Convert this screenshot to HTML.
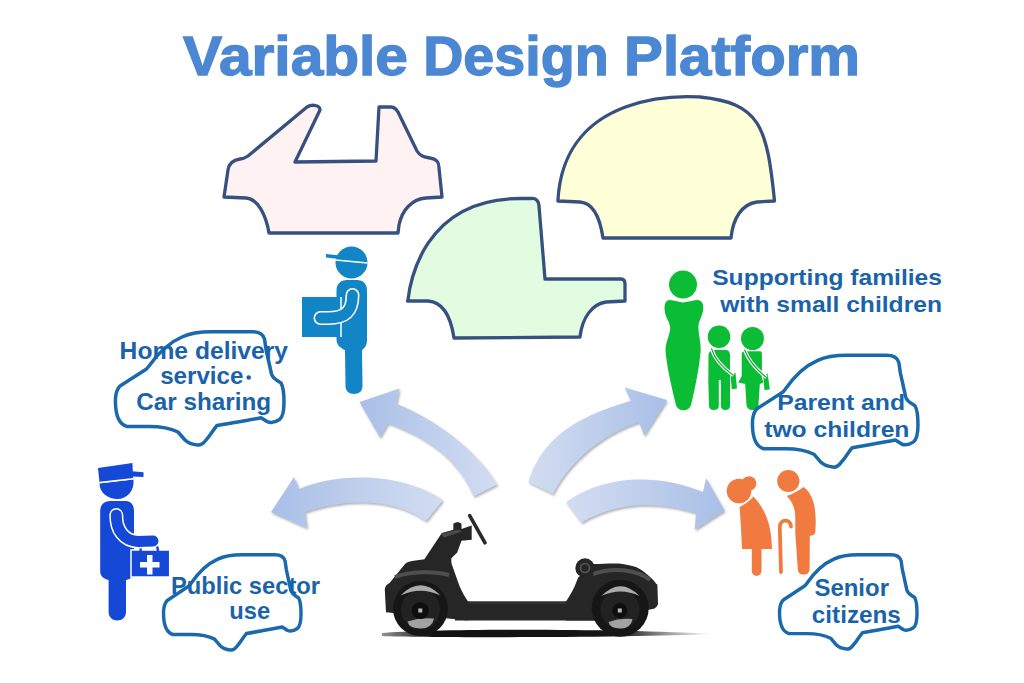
<!DOCTYPE html>
<html><head><meta charset="utf-8">
<style>
html,body{margin:0;padding:0;background:#fff;}
body{width:1024px;height:683px;overflow:hidden;}
svg{display:block;}
text{font-family:"Liberation Sans",sans-serif;font-weight:bold;}
</style></head>
<body>
<svg width="1024" height="683" viewBox="0 0 1024 683">
<defs>
  <linearGradient id="ag1" x1="0" y1="0" x2="1" y2="0">
    <stop offset="0" stop-color="#a9bfe7"/><stop offset="1" stop-color="#d3ddf1"/>
  </linearGradient>
  <linearGradient id="ag2" x1="1" y1="0" x2="0" y2="0">
    <stop offset="0" stop-color="#a9bfe7"/><stop offset="1" stop-color="#d3ddf1"/>
  </linearGradient>
  <linearGradient id="shd" x1="0" y1="0" x2="1" y2="0">
    <stop offset="0" stop-color="#222" stop-opacity="0.5"/><stop offset="0.15" stop-color="#111"/><stop offset="0.72" stop-color="#151515"/><stop offset="1" stop-color="#555" stop-opacity="0"/>
  </linearGradient>
  <filter id="ash" x="-10%" y="-10%" width="130%" height="130%">
    <feDropShadow dx="1.2" dy="1.8" stdDeviation="1" flood-color="#6a7080" flood-opacity="0.55"/>
  </filter>
</defs>
<rect width="1024" height="683" fill="#fff"/>

<!-- Title -->
<g fill="#4b87d2" stroke="#4b87d2" stroke-width="1.3" font-size="55">
<text x="183" y="75.4" textLength="225" lengthAdjust="spacingAndGlyphs">Variable</text>
<text x="423.2" y="75.4" textLength="185.5" lengthAdjust="spacingAndGlyphs">Design</text>
<text x="624.1" y="75.4" textLength="236" lengthAdjust="spacingAndGlyphs">Platform</text>
</g>

<!-- Car bodies -->
<g stroke="#36517f" stroke-width="3.3" stroke-linejoin="round">
  <path id="pink" fill="#fff2f3" d="M307,107 C312,104 320,105 320,110 L295,162 L376,161 L379,107 L391,107 C395,107 396,109 398,112 L417,151 C420,156 424,157 430,158 C437,159 439,162 439,168 L442,197 L426,198 C412,199 402,210 399,225 L398,233 L269,233 C266,215 258,199 246,198 L224,197 L228,170 C229,163 233,160 240,159 C243,159 245,158 248,156 Z"/>
  <path id="green" fill="#e1fce0" d="M407.5,301 L408,300 C409.7,283.1 423,198.5 520,198.5 L531,198.5 C536,198 539,201 539,206 L545,279 L621,279 C624,279 625,281 625,284 L625,301 L606,302 C592,304 582,318 580,337 L454,338 C451,318 444,302 428,301 Z"/>
  <path id="yellow" fill="#ffffd8" d="M557.9,201 C563.7,84.8 697,97 700,97 C759.7,103 766.9,125.4 774.5,201 L757,202 C742,204 733,218 731,238 L603,238 C600,218 594,203 580,202 Z"/>
</g>

<!-- Arrows -->
<g filter="url(#ash)">
  <path fill="url(#ag1)" d="M359.5,402 L399.4,388.4 L396.4,403.8 C420,413 470,440 497,484.5 L473.7,496.3 C455,450 410,431 388,423.3 L380,437.6 Z"/>
  <path fill="url(#ag1)" d="M271,512 L294,477 L299,489 C335,473 400,471 443,500 L426,521 C395,499 350,497 305,512 L307,528 Z"/>
  <path fill="url(#ag2)" d="M667,400 L624.7,387.4 L630.9,400.8 C595,412 545,428 528.3,482 L553,494 C570,460 605,433 639,422.3 L644.2,435.6 Z"/>
  <path fill="url(#ag2)" d="M724.5,510.5 L706.2,478.3 L703,492 C660,475 608,473 566,502 L581.5,522.5 C620,500 660,502 696,513 L694.6,529.8 Z"/>
</g>

<!-- Delivery person -->
<g fill="#1285c6">
  <circle cx="351.5" cy="262.5" r="16"/>
  <path d="M326,254 L340,255.5 L339,259 L326,257.5 Z"/>
  <path d="M336.5,290 C336.5,284 341,280 347,280 L357,280 C363,280 367,284 367,290 L367,340 C367,345 365,348 362,350 L362.5,386 C362.5,391 359,394 354,394 C349,394 345.5,391 345.5,386 L345,350 C340,348 337,345 336.5,340 Z"/>
  <rect x="302" y="297" width="39" height="40"/>
</g>
<line x1="335.5" y1="260" x2="367.5" y2="263" stroke="#fff" stroke-width="1.6"/>
<line x1="341" y1="297" x2="341" y2="337" stroke="#fff" stroke-width="1.5"/>
<path d="M352.5,295 C352.5,311 346,318 328,318 L320.5,318" fill="none" stroke="#fff" stroke-width="14" stroke-linecap="round"/>
<path d="M352.5,295 C352.5,311 346,318 328,318 L320.5,318" fill="none" stroke="#1285c6" stroke-width="10.8" stroke-linecap="round"/>

<!-- Public sector person -->
<g fill="#1648d8">
  <path d="M98,468 L132.4,463 L133.2,479 L99.5,482.7 Z"/>
  <path d="M132,471.3 L143.5,472.3 L143.5,477 L132,476.5 Z"/>
  <path d="M99.5,483.5 L133.5,479.5 C134.5,491 127,499 117.5,499 C107,499 99.5,492 99.5,483.5 Z"/>
  <path d="M100.2,511 C100.2,505 104,501 110,501 L126,501 C131,501 134,505 134,511 L134,572 C134,576 131,579 126,580 L126,612 C126,617 122,620.5 117.3,620.5 C112.6,620.5 108.6,617 108.6,612 L108.6,580 C104,579 100.2,576 100.2,572 Z"/>
  <rect x="131" y="550" width="38.7" height="27" stroke="#fff" stroke-width="1.5"/>
</g>
<line x1="99.5" y1="482.6" x2="133.2" y2="478.8" stroke="#fff" stroke-width="1.5"/>
<path d="M140.5,551 C140.5,539 158,538 158,551" fill="none" stroke="#1648d8" stroke-width="2.3"/>
<path d="M116.3,515 C116,530 124,541 138,541.5 L153,541" fill="none" stroke="#fff" stroke-width="14" stroke-linecap="round"/>
<path d="M116.3,515 C116,530 124,541 138,541.5 L153,541" fill="none" stroke="#1648d8" stroke-width="11" stroke-linecap="round"/>
<path d="M147,555 h5.5 v7 h7 v5.5 h-7 v7 h-5.5 v-7 h-7 v-5.5 h7 Z" fill="#fff"/>

<!-- Family -->
<g fill="#0bbd35">
  <circle cx="683" cy="284.6" r="14"/>
  <path d="M683,302.5 C689,301.5 694,300 698,300 C703,300.5 704,306 703,311 C702,317 698,322 698.4,328 C698.5,335 701,342 700.7,350 C700,362 696,385 691,405 C689,412 678,412 676,405 C671,385 666,362 665.5,350 C665.5,342 670,335 670.2,328 C670,322 665,317 664.8,311 C664,306 665,300.5 669,300 C673,300 678,301.5 683,302.5 Z"/>
  <circle cx="719" cy="336.7" r="11.3"/>
  <path d="M708.5,356 C708.5,352 711,350 714,350 L726,350 C728.5,350 730,352 730,355 L730,406 C730,408.5 728,410 725.4,410 C722.8,410 720.9,408.5 720.9,406 L720.9,380 L718.8,380 L718.8,406 C718.8,408.5 716.8,410 714,410 C711,410 709,408.5 709,406 L708.3,380 Z"/>
  <circle cx="752.5" cy="338.5" r="11.5"/>
  <path d="M741.7,354 C741.7,352 743,351.3 745,351.3 L760,351.3 C762,351.3 762,353 761.9,356 L761.9,378 L763.5,382.5 L759.8,384 L758.5,405 C758,409 755,410 752.5,410 C750,410 747,409 746.5,405 L745.2,384 L738.2,382.5 L741.7,376 Z"/>
  <path d="M730.5,374.5 L735.5,373 L737,388.5 L731.8,389.3 Z"/>
  <path d="M763.3,376.5 L767.5,373.4 L769.9,389.2 L764.5,390.2 Z"/>
</g>
<path d="M711.4,348.4 C714,358 723,368 733.4,375.4" fill="none" stroke="#fff" stroke-width="3.6"/>
<path d="M711.4,348.4 C714,358 723,368 733.4,375.4" fill="none" stroke="#0c9c2a" stroke-width="1.1"/>
<path d="M744.5,349.8 C748,359 757,370 766.4,377.4" fill="none" stroke="#fff" stroke-width="3.6"/>
<path d="M744.5,349.8 C748,359 757,370 766.4,377.4" fill="none" stroke="#0c9c2a" stroke-width="1.1"/>

<!-- Seniors -->
<g fill="#f07a40">
  <path d="M739.7,507 C745,504.5 750,500.5 753.4,496.6 C764,508 771.5,522 772,549 L742,549 C741.5,535 740.5,520 739.7,507 Z"/>
  <path d="M751.8,545 L761.5,545 L761.5,571 C761.5,574 759,575.8 756.6,575.8 C754,575.8 751.8,574 751.8,571 Z"/>
  <path d="M786.8,496 C793,494 799,490 803.7,487 C810,492 814,500 815,510 C816,518 815.8,526 815.3,532.5 C815,535 812,535.5 809.8,536 L809.6,569.4 C809,573 807,574.5 803.5,574.5 C800,574.5 798,573 797.8,569 L795.3,533 L795.3,516 C795,508 792,501 786.8,496 Z"/>
</g>
<g fill="#fff">
  <circle cx="739" cy="491" r="13.8"/><circle cx="788.3" cy="481" r="12.6"/>
</g>
<g fill="#f07a40">
  <circle cx="749" cy="483.5" r="7.3"/>
  <circle cx="739" cy="491" r="12.3"/>
  <circle cx="788.3" cy="481" r="11.1"/>
</g>
<path d="M781,572 L779.8,527 C779.8,518.5 791,518.5 791,526.5" fill="none" stroke="#f07a40" stroke-width="3.8" stroke-linecap="round"/>

<!-- Cloud car outlines -->
<g fill="none" stroke="#1b69ad" stroke-width="3.5" stroke-linejoin="round" stroke-linecap="round">
  <path id="c1" d="M127,426.5 C118,424 115,412 115.5,398 C116,392 117,389 120,386 L146.5,369 L149,366 C156,356 168,343 182,337 C190,333 200,331.7 212,331.7 L252,331.7 C258,331.7 263,334 264.5,339 L266,349.3 L271.5,374 C273,379 277,380 281,383 C284,388 284,395 284,402 C284,410 283,417 279.5,419.5 C275,422.5 270,423 267,421.5 L261,417.7 C245,421 230,423 217,425.5 C213,430 210,436 206,440 C203,444 200,445.5 197.5,445 C192,444.5 188,443 185,440 L178,432 C170,428 160,426.5 148.8,426.5 L127,426.5 Z"/>
  <use href="#c1" transform="translate(164,555) scale(0.8155,0.8407) translate(-116,-332)" stroke-width="4.2"/>
  <use href="#c1" transform="translate(753,355.5) scale(0.982,0.987) translate(-116,-332)" stroke-width="3.55"/>
  <use href="#c1" transform="translate(780,555) scale(0.8155,0.832) translate(-116,-332)" stroke-width="4.2"/>
</g>

<!-- Labels -->
<g fill="#1a63aa">
<text x="119.60" y="358.5" font-size="24.3" textLength="168.42" lengthAdjust="spacingAndGlyphs">Home delivery</text>
<text x="160.20" y="384.3" font-size="24.3" textLength="83.26" lengthAdjust="spacingAndGlyphs">service</text>
<circle cx="248.7" cy="377.5" r="2.3"/>
<text x="136.20" y="410.4" font-size="24.3" textLength="134.85" lengthAdjust="spacingAndGlyphs">Car sharing</text>
<text x="171.00" y="593.7" font-size="23.4" textLength="149.05" lengthAdjust="spacingAndGlyphs">Public sector</text>
<text x="229.20" y="619.2" font-size="23.4" textLength="40.91" lengthAdjust="spacingAndGlyphs">use</text>
<text x="712.20" y="285.3" font-size="22.2" textLength="229.82" lengthAdjust="spacingAndGlyphs">Supporting families</text>
<text x="720.20" y="312.0" font-size="22.2" textLength="221.81" lengthAdjust="spacingAndGlyphs">with small children</text>
<text x="777.20" y="410.0" font-size="22.3" textLength="127.90" lengthAdjust="spacingAndGlyphs">Parent and</text>
<text x="764.20" y="436.5" font-size="22.3" textLength="145.23" lengthAdjust="spacingAndGlyphs">two children</text>
<text x="814.40" y="596.0" font-size="23.3" textLength="74.63" lengthAdjust="spacingAndGlyphs">Senior</text>
<text x="811.80" y="622.5" font-size="23.3" textLength="89.06" lengthAdjust="spacingAndGlyphs">citizens</text>
</g>

<!-- Chassis -->
<g id="chassis">
  <path d="M382,633 C430,628.5 620,628.5 714,634 C640,637.5 430,638 382,636 Z" fill="url(#shd)"/>
  <path d="M384.8,590 C385,586 387,584.5 389.6,583 L405,564 C407,562 409,561.5 412,561 L424.4,559.2 L441.8,533.1 L453.3,529.8 L453.3,524 C455,521.5 460,521.5 461.5,524 L461.5,529 L471.7,525.4 L471.7,539.7 L461.5,540.7 L457.2,552.4 L451.4,558.2 C451,561 451.5,564 452.4,566 L459.2,585.3 C462,592 465,597 468,601.5 L468,620.5 L386,612.3 Z" fill="#262626"/>
  <rect x="455" y="601.3" width="140" height="19.2" fill="#262626"/>
  <line x1="470" y1="603" x2="588" y2="603" stroke="#3c3c3c" stroke-width="1.2"/>
  <path d="M566,601.5 C570,596 574,588 575.3,584.8 L578,577.8 L592,564 C605,564 615,563 622.6,564 C630,565 636,567 638,568 C645,572 652,578 656,583.4 L657.4,584.8 L658,604.2 C657,607 655,608 654.6,608.4 L649,609.8 L620,610 L595,620.5 L566,620.5 Z" fill="#262626"/>
  <path d="M441,534 L458,529.5 L462,531.5 L444,537.5 Z" fill="#4a4a4a"/>
  <line x1="469.7" y1="515.6" x2="485" y2="542.8" stroke="#2a2a2a" stroke-width="3.6" stroke-linecap="round"/>
  <path d="M395,577 C410,571 435,571 449,575" fill="none" stroke="#4f4f4f" stroke-width="4"/>
  <path d="M593,574 C612,567 636,569 650,580" fill="none" stroke="#4f4f4f" stroke-width="4"/>
  <circle cx="420.5" cy="608.5" r="27.5" fill="#161616"/>
  <circle cx="420.5" cy="609.5" r="19.5" fill="#222"/>
  <path d="M400.5,595.5 Q420.5,575 440.5,595.5 Q420.5,586 400.5,595.5 Z" fill="#ababab"/>
  <path d="M407.5,621.5 Q420.5,617 434,618.5 Q432,628.5 420.5,628.5 Q409,628.5 407.5,621.5 Z" fill="#a2a2a2"/>
  <circle cx="420.3" cy="610.5" r="8.6" fill="#0e0e0e"/>
  <rect x="418.3" y="608.5" width="4" height="4" fill="#b8b8b8"/>
  <circle cx="620.2" cy="608.2" r="28.5" fill="#161616"/>
  <circle cx="620" cy="609.5" r="19.5" fill="#222"/>
  <path d="M601.5,596 Q620.3,576.5 639.5,596 Q620.3,587 601.5,596 Z" fill="#ababab"/>
  <path d="M608.5,622 Q620,617.5 632.5,619 Q631,628.5 620.3,628.5 Q610,628.5 608.5,622 Z" fill="#a2a2a2"/>
  <circle cx="619.8" cy="610.5" r="7.5" fill="#0e0e0e"/>
  <rect x="617.8" y="608.5" width="4" height="4" fill="#b8b8b8"/>
  <circle cx="585" cy="568" r="9.7" fill="#262626"/>
  <circle cx="585" cy="568" r="4.5" fill="none" stroke="#575757" stroke-width="1.6"/>
</g>
</svg>
</body></html>
